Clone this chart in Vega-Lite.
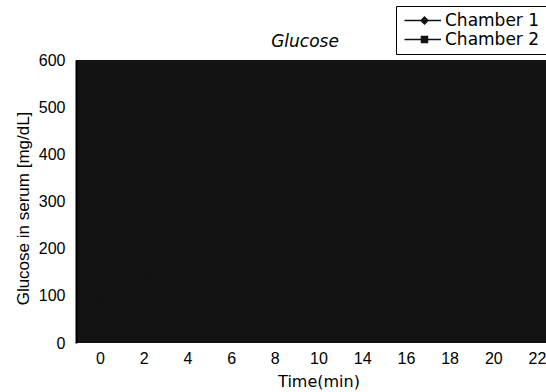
{
  "$schema": "https://vega.github.io/schema/vega-lite/v6.json",
  "width": 470,
  "height": 283,
  "autosize": {"type": "none"},
  "padding": {"left": 76, "top": 60, "right": 0, "bottom": 49},
  "background": "white",
  "title": {
    "text": "Glucose",
    "font": "DejaVu Sans",
    "fontSize": 17,
    "fontStyle": "italic",
    "fontWeight": "normal",
    "color": "black",
    "offset": -45,
    "dx": -6
  },
  "config": {
    "view": {"fill": "#131313", "stroke": null},
    "axis": {"grid": false, "ticks": false, "domainColor": "black"}
  },
  "data": {
    "values": [
      {"time": "0", "series": "Chamber 1", "glucose": 95},
      {"time": "2", "series": "Chamber 1", "glucose": 180},
      {"time": "4", "series": "Chamber 1", "glucose": 260},
      {"time": "6", "series": "Chamber 1", "glucose": 320},
      {"time": "8", "series": "Chamber 1", "glucose": 370},
      {"time": "10", "series": "Chamber 1", "glucose": 400},
      {"time": "14", "series": "Chamber 1", "glucose": 430},
      {"time": "16", "series": "Chamber 1", "glucose": 445},
      {"time": "18", "series": "Chamber 1", "glucose": 455},
      {"time": "20", "series": "Chamber 1", "glucose": 460},
      {"time": "22", "series": "Chamber 1", "glucose": 465},
      {"time": "0", "series": "Chamber 2", "glucose": 90},
      {"time": "2", "series": "Chamber 2", "glucose": 140},
      {"time": "4", "series": "Chamber 2", "glucose": 200},
      {"time": "6", "series": "Chamber 2", "glucose": 250},
      {"time": "8", "series": "Chamber 2", "glucose": 290},
      {"time": "10", "series": "Chamber 2", "glucose": 320},
      {"time": "14", "series": "Chamber 2", "glucose": 350},
      {"time": "16", "series": "Chamber 2", "glucose": 365},
      {"time": "18", "series": "Chamber 2", "glucose": 375},
      {"time": "20", "series": "Chamber 2", "glucose": 385},
      {"time": "22", "series": "Chamber 2", "glucose": 390}
    ]
  },
  "encoding": {
    "x": {
      "field": "time",
      "type": "ordinal",
      "sort": null,
      "scale": {"type": "point", "range": [24, 461], "padding": 0},
      "axis": {
        "title": "Time(min)",
        "labelAngle": 0,
        "labelFont": "Liberation Sans",
        "labelFontSize": 16,
        "labelColor": "black",
        "labelPadding": 7,
        "titleFont": "DejaVu Sans",
        "titleFontSize": 16,
        "titleFontWeight": "normal",
        "titleColor": "black",
        "titlePadding": 7,
        "domain": false
      }
    },
    "y": {
      "field": "glucose",
      "type": "quantitative",
      "scale": {"domain": [0, 600], "nice": false},
      "axis": {
        "title": "Glucose in serum [mg/dL]",
        "values": [0, 100, 200, 300, 400, 500, 600],
        "labelFont": "Liberation Sans",
        "labelFontSize": 16,
        "labelColor": "black",
        "labelPadding": 11,
        "titleFont": "Liberation Sans",
        "titleFontSize": 17,
        "titleFontWeight": "normal",
        "titleColor": "black",
        "titlePadding": 6,
        "titleY": 148,
        "domainWidth": 2
      }
    }
  },
  "layer": [
    {
      "mark": {"type": "line", "color": "#131313", "strokeWidth": 1},
      "encoding": {"detail": {"field": "series"}}
    },
    {
      "mark": {"type": "point", "filled": true, "color": "#131313", "size": 30, "opacity": 1},
      "encoding": {
        "shape": {
          "field": "series",
          "type": "nominal",
          "scale": {
            "domain": ["Chamber 1", "Chamber 2"],
            "range": [
              "M-4,-0.13H3.3V0.13H-4ZM0,-0.9L0.9,0L0,0.9L-0.9,0Z",
              "M-4,-0.13H3.3V0.13H-4ZM-0.75,-0.75H0.75V0.75H-0.75Z"
            ]
          },
          "legend": {
            "title": null,
            "orient": "none",
            "legendX": 320,
            "legendY": -54,
            "padding": 6,
            "strokeColor": "black",
            "fillColor": "white",
            "symbolSize": 100,
            "symbolOffset": 14,
            "labelOffset": 12,
            "labelFont": "DejaVu Sans",
            "labelFontSize": 17,
            "labelColor": "black",
            "rowPadding": 1,
            "symbolFillColor": "black",
            "symbolStrokeColor": "black",
            "symbolStrokeWidth": 0,
            "symbolOpacity": 1,
            "encode": {
              "symbols": {
                "update": {
                  "fill": {"value": "black"},
                  "opacity": {"value": 1}
                }
              }
            }
          }
        }
      }
    }
  ]
}
